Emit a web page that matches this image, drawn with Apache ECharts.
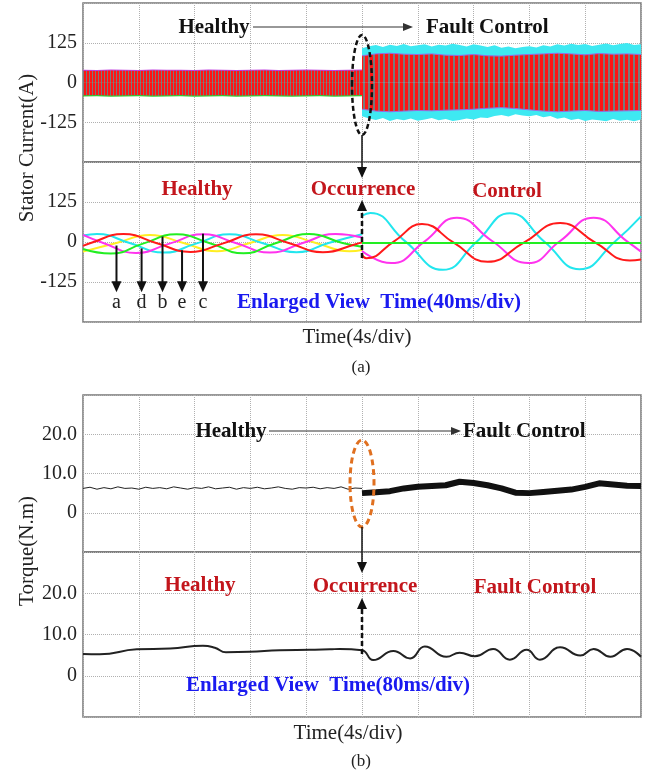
<!DOCTYPE html>
<html>
<head>
<meta charset="utf-8">
<script src="https://cdn.jsdelivr.net/npm/echarts@6/dist/echarts.min.js"></script>
<style>
  html, body { margin: 0; padding: 0; background: #fff; }
  #main { width: 652px; height: 777px; }
</style>
</head>
<body>
<div id="main"></div>
<script>
// ---------- (a) stator current, whole record, time in s ----------
const healthyTime = [0,1,2,3,4,5,6,7,8,9,10,11,12,13,14,15,16,17,18,19,20]
const redHealthyUp = [37,36,38,37,36,38,37,37,36,38,37,36,37,38,36,37,38,37,36,37,38]
const redHealthyLow = [-40,-39,-41,-40,-39,-41,-40,-39,-41,-40,-39,-41,-40,-39,-40,-41,-40,-39,-41,-40,-39]
const greenHealthyUp = [40,39,41,40,39,41,40,40,39,41,40,39,40,41,39,40,41,40,39,40,41]
const greenHealthyLow = [-44,-43,-45,-44,-43,-45,-44,-43,-45,-44,-43,-45,-44,-43,-44,-45,-44,-43,-45,-44,-43]

const faultTime = [20,21,22,23,24,25,26,27,28,29,30,31,32,33,34,35,36,37,38,39,40]
const redFaultUp = [84,90,92,89,88,90,86,85,88,84,83,86,88,90,92,90,87,91,89,90,88]
const redFaultLow = [-84,-90,-92,-90,-88,-89,-87,-86,-84,-81,-79,-82,-86,-90,-92,-90,-88,-91,-90,-89,-88]

const cyanTime = [20,20.5,21,21.5,22,22.5,23,23.5,24,24.5,25,25.5,26,26.5,27,27.5,28,28.5,29,29.5,30,30.5,31,31.5,32,32.5,33,33.5,34,34.5,35,35.5,36,36.5,37,37.5,38,38.5,39,39.5,40]
const cyanFaultUp = [108,114,118,112,119,115,121,114,117,120,113,119,116,122,118,113,120,116,112,117,109,113,108,112,114,110,117,113,120,116,122,118,121,115,119,123,117,121,124,118,120]
const cyanFaultLow = [-106,-113,-118,-112,-121,-115,-119,-113,-120,-116,-112,-119,-115,-121,-118,-113,-116,-110,-112,-105,-102,-107,-100,-104,-106,-102,-109,-105,-114,-110,-118,-114,-121,-116,-119,-122,-115,-120,-117,-122,-116]

// ---------- (a) enlarged view, [ms, A] ----------
const redPre = [[0,-12],[5,-4],[29,25],[53,-4],[77,-31],[100,-5],[124,24],[148,-4],[172,-32],[196,-6],[200,-2]]
const yellowPre = [[0,-30],[24,-3],[48,22],[72,-3],[96,-29],[119,-4],[143,22],[167,-3],[191,-29],[200,-25]]
const greenPre = [[0,-22],[20,-36],[43,-5],[67,24],[91,-4],[115,-35],[138,-4],[162,25],[186,-3],[200,-15]]
const magentaPre = [[0,22],[15,-4],[38,-34],[62,-5],[86,24],[110,-4],[134,-33],[157,-4],[181,25],[200,14]]
const cyanPre = [[0,20],[10,25],[34,-4],[58,-33],[81,-5],[105,24],[129,-4],[153,-32],[176,-3],[200,24]]

const redPost = [[200,-40],[203,-51],[223,2],[243,56],[266,-3],[290,-62],[316,-2],[342,59],[367,-1],[392,-58],[400,-55]]
const yellowPost = [[200,-3],[300,-3],[400,-3]]
const greenPost = [[200,-3],[300,-3],[400,-3]]
const magentaPost = [[200,-28],[221,-66],[245,2],[268,76],[293,4],[319,-66],[342,3],[366,76],[390,2],[400,-30]]
const cyanPost = [[200,82],[206,91],[231,2],[258,-87],[282,0],[306,90],[331,0],[356,-85],[381,0],[400,80]]

// ---------- (b) torque, whole record, time in s ----------
const torqueHealthyTime = [0,0.5,1,1.5,2,2.5,3,3.5,4,4.5,5,5.5,6,6.5,7,7.5,8,8.5,9,9.5,10,10.5,11,11.5,12,12.5,13,13.5,14,14.5,15,15.5,16,16.5,17,17.5,18,18.5,19,19.5,20]
const torqueHealthy = [6.2,6.5,6.0,6.4,6.1,6.6,6.2,6.3,6.0,6.5,6.2,6.4,6.1,6.6,6.3,6.0,6.4,6.2,6.6,6.1,6.3,6.5,6.0,6.4,6.2,6.5,6.1,6.3,6.6,6.2,6.0,6.4,6.3,6.5,6.1,6.4,6.2,6.6,6.0,6.3,6.2]
const torqueFaultTime = [20,21,22,23,24,25,26,27,28,29,30,31,32,33,34,35,36,37,38,39,40]
const torqueFault = [5.0,5.2,5.5,6.2,6.6,6.8,7.0,7.9,7.6,7.0,6.2,5.1,5.0,5.3,5.6,5.9,6.6,7.5,7.2,6.9,6.8]

// ---------- (b) enlarged view, time in ms ----------
const torqueZoomTime = [0,24,77,125,172,189,205,239,282,325,354,368,400,416,445,469,490,521,540,562,588,612,636,655,684,713,732,756,780,800]
const torqueZoom = [5.3,5.2,6.4,6.6,7.3,6.8,5.7,5.8,6.2,6.3,6.4,6.5,6.2,3.8,6.0,4.2,7.1,4.6,5.6,4.7,6.5,3.9,6.3,3.9,6.9,4.9,6.5,4.6,6.5,4.6]

const zip = (xs, ys) => xs.map((x, i) => [x, ys[i]])

const FONT = '"Liberation Serif", "DejaVu Serif", serif'
const RED = '#ff1414'
const GREY = '#7a7a7a'
const CYAN = '#3ee9f2'
const DARKRED = '#c3161c'
const BLUE = '#1a1af0'

// red band with grey vertical striations
function stripes(c1, c2, w1, w2) {
  const cv = document.createElement('canvas')
  cv.width = w1 + w2
  cv.height = 4
  const g = cv.getContext('2d')
  g.fillStyle = c1
  g.fillRect(0, 0, w1, 4)
  g.fillStyle = c2
  g.fillRect(w1, 0, w2, 4)
  return { image: cv, repeat: 'repeat' }
}

const chart = echarts.init(document.getElementById('main'))

const grids = [
  { left: 83, right: 11, top: 3, height: 159 },
  { left: 83, right: 11, top: 162, height: 160 },
  { left: 83, right: 11, top: 395, height: 157 },
  { left: 83, right: 11, top: 552, height: 165 },
].map((g) => ({ ...g, show: true, borderColor: '#777', borderWidth: 1.5, containLabel: false }))

const split = { show: true, lineStyle: { type: 'dotted', color: '#b0b0b0', width: 1 } }

function xAx(i, max, interval) {
  return {
    type: 'value', gridIndex: i, min: 0, max: max, interval: interval,
    axisLabel: { show: false }, axisTick: { show: false }, axisLine: { show: false }, splitLine: split,
  }
}

function yAx(i, min, max, interval, fmt) {
  return {
    type: 'value', gridIndex: i, min: min, max: max, interval: interval,
    axisTick: { show: false }, axisLine: { show: false }, splitLine: split,
    axisLabel: { formatter: fmt, fontFamily: FONT, fontSize: 20, color: '#222', margin: 6 },
  }
}

const currentFmt = (v) => (Math.abs(v) === 250 ? '' : String(v))
const torqueFmt = (v) => (v === 20 ? '20.0' : v === 10 ? '10.0' : v === 0 ? '0' : '')

function band(data, color, edge) {
  return {
    type: 'line', xAxisIndex: 0, yAxisIndex: 0, data: data, symbol: 'none',
    lineStyle: edge ? { width: 1, color: edge } : { width: 0 },
    areaStyle: { color: color, opacity: 1 }, silent: true,
  }
}

function wave(data, color, width = 2) {
  return {
    type: 'line', xAxisIndex: 1, yAxisIndex: 1, data: data, symbol: 'none', smooth: 0.5,
    lineStyle: { width: width, color: color }, silent: true,
  }
}

const option = {
  animation: false,
  backgroundColor: '#fff',
  grid: grids,
  xAxis: [xAx(0, 40, 4), xAx(1, 400, 40), xAx(2, 40, 4), xAx(3, 800, 80)],
  yAxis: [
    yAx(0, -250, 250, 125, currentFmt),
    yAx(1, -250, 250, 125, currentFmt),
    yAx(2, -10, 30, 10, torqueFmt),
    yAx(3, -10, 30, 10, torqueFmt),
  ],
  series: [
    // full record current
    band(zip(cyanTime, cyanFaultUp), CYAN),
    band(zip(cyanTime, cyanFaultLow), CYAN),
    band(zip(faultTime, redFaultUp), stripes(RED, GREY, 3, 2), '#9a6ae0'),
    band(zip(faultTime, redFaultLow), stripes(RED, GREY, 3, 2), '#9a6ae0'),
    band(zip(healthyTime, greenHealthyUp), '#c040e0'),
    band(zip(healthyTime, greenHealthyLow), '#33cc33'),
    band(zip(healthyTime, redHealthyUp), stripes(RED, GREY, 2, 1)),
    band(zip(healthyTime, redHealthyLow), stripes(RED, GREY, 2, 1)),
    // enlarged current
    wave(yellowPre, '#ffee22'),
    wave(cyanPre, '#22e6ee'),
    wave(magentaPre, '#ff33ee'),
    wave(greenPre, '#22ee22'),
    wave(redPre, '#ff1a1a'),
    wave(yellowPost, '#ffee22'),
    wave(cyanPost, '#22e6ee'),
    wave(magentaPost, '#ff33ee'),
    wave(redPost, '#ff1a1a'),
    wave(greenPost, '#22ee22'),
    // torque
    {
      type: 'line', xAxisIndex: 2, yAxisIndex: 2, data: zip(torqueHealthyTime, torqueHealthy),
      symbol: 'none', lineStyle: { width: 1, color: '#222' }, silent: true,
    },
    {
      type: 'line', xAxisIndex: 2, yAxisIndex: 2, data: zip(torqueFaultTime, torqueFault),
      symbol: 'none', lineStyle: { width: 6, color: '#111' }, silent: true,
    },
    {
      type: 'line', xAxisIndex: 3, yAxisIndex: 3, data: zip(torqueZoomTime, torqueZoom),
      symbol: 'none', smooth: 0.5, lineStyle: { width: 2, color: '#222' }, silent: true,
    },
  ],
}

chart.setOption(option)

// ---------- annotations ----------
const px = (g, x, y) => chart.convertToPixel({ gridIndex: g }, [x, y])

function head(x1, y1, x2, y2, color, len = 11, half = 5) {
  const a = Math.atan2(y2 - y1, x2 - x1)
  const bx = x2 - len * Math.cos(a)
  const by = y2 - len * Math.sin(a)
  const nx = -Math.sin(a) * half
  const ny = Math.cos(a) * half
  return {
    type: 'polygon', z: 100, silent: true,
    shape: { points: [[x2, y2], [bx + nx, by + ny], [bx - nx, by - ny]] },
    style: { fill: color },
  }
}

function arrow(x1, y1, x2, y2, opt = {}) {
  const color = opt.color || '#111'
  const len = opt.len || 11
  const a = Math.atan2(y2 - y1, x2 - x1)
  return [
    {
      type: 'line', z: 100, silent: true,
      shape: { x1: x1, y1: y1, x2: x2 - (len - 2) * Math.cos(a), y2: y2 - (len - 2) * Math.sin(a) },
      style: { stroke: color, lineWidth: opt.width || 2, lineDash: opt.dash || null },
    },
    head(x1, y1, x2, y2, color, len, opt.half || 5),
  ]
}

function text(str, x, y, opt = {}) {
  return {
    type: 'text', x: x, y: y, z: 100, silent: true, rotation: opt.rotation || 0,
    style: {
      text: str, fill: opt.color || '#111',
      font: (opt.bold ? 'bold ' : '') + (opt.size || 21) + 'px ' + FONT,
      align: opt.align || 'center', verticalAlign: 'middle',
    },
  }
}

const els = []

// axis titles and captions
els.push(text('Stator Current(A)', 27, 148, { rotation: Math.PI / 2, size: 21, color: '#222' }))
els.push(text('Time(4s/div)', 357, 337, { color: '#222' }))
els.push(text('(a)', 361, 368, { size: 17, color: '#222' }))
els.push(text('Torque(N.m)', 27, 551, { rotation: Math.PI / 2, size: 21, color: '#222' }))
els.push(text('Time(4s/div)', 348, 733, { color: '#222' }))
els.push(text('(b)', 361, 762, { size: 17, color: '#222' }))

// (a) upper
const fa = px(0, 20, 0)[0]
els.push(text('Healthy', 214, 28, { bold: true }))
els.push(...arrow(253, 27, 413, 27, { width: 1.2, color: '#333', len: 10, half: 4 }))
els.push(text('Fault Control', 426, 28, { bold: true, align: 'left' }))
els.push({
  type: 'ellipse', z: 100, silent: true, shape: { cx: fa, cy: 85, rx: 10, ry: 50 },
  style: { fill: 'none', stroke: '#111', lineWidth: 2.5, lineDash: [5, 3] },
})
els.push(...arrow(fa, 135, fa, 178, { width: 1.5 }))

// (a) lower
els.push(text('Healthy', 197, 190, { bold: true, color: DARKRED }))
els.push(text('Occurrence', 363, 190, { bold: true, color: DARKRED }))
els.push(text('Control', 507, 192, { bold: true, color: DARKRED }))
const occA = px(1, 200, -50)
els.push(...arrow(occA[0], occA[1], occA[0], 200, { width: 2.5, dash: [5, 3] }))
els.push(text('Enlarged View  Time(40ms/div)', 237, 303, { bold: true, color: BLUE, align: 'left' }))

const phaseMarks = [['a', 24, -11], ['d', 42, -20], ['b', 57, 17], ['e', 71, -26], ['c', 86, 26]]
phaseMarks.forEach(([lbl, t, v]) => {
  const p0 = px(1, t, v)
  const p1 = px(1, t, -157)
  const pl = px(1, t, -190)
  els.push(...arrow(p0[0], p0[1], p1[0], p1[1], { width: 2 }))
  els.push(text(lbl, pl[0], pl[1], { size: 20, color: '#222' }))
})

// (b) upper
const fb = px(2, 20, 0)[0]
els.push(text('Healthy', 231, 432, { bold: true }))
els.push(...arrow(269, 431, 461, 431, { width: 1.2, color: '#333', len: 10, half: 4 }))
els.push(text('Fault Control', 463, 432, { bold: true, align: 'left' }))
els.push({
  type: 'ellipse', z: 100, silent: true, shape: { cx: fb, cy: 483.5, rx: 12, ry: 43.5 },
  style: { fill: 'none', stroke: '#e07020', lineWidth: 3, lineDash: [6, 4] },
})
els.push(...arrow(fb, 527, fb, 573, { width: 1.5 }))

// (b) lower
els.push(text('Healthy', 200, 586, { bold: true, color: DARKRED }))
els.push(text('Occurrence', 365, 587, { bold: true, color: DARKRED }))
els.push(text('Fault Control', 535, 588, { bold: true, color: DARKRED }))
const occB = px(3, 400, 5.3)
els.push(...arrow(occB[0], occB[1], occB[0], 598, { width: 2.5, dash: [5, 3] }))
els.push(text('Enlarged View  Time(80ms/div)', 186, 686, { bold: true, color: BLUE, align: 'left' }))

chart.setOption({ graphic: { elements: els } })
</script>
</body>
</html>
